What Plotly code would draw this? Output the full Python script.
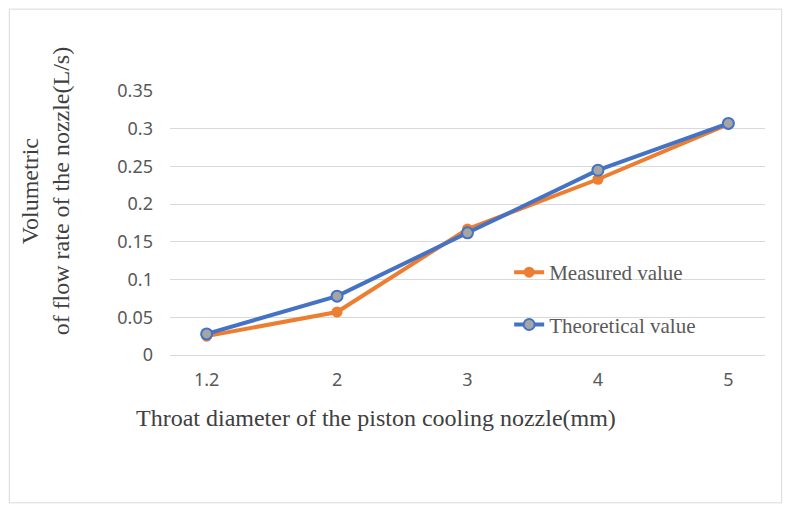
import plotly.graph_objects as go

diameters = ["1.2", "2", "3", "4", "5"]
measured = [0.025, 0.057, 0.167, 0.233, 0.306]
theoretical = [0.028, 0.078, 0.162, 0.245, 0.307]

fig = go.Figure()
fig.add_trace(go.Scatter(x=diameters, y=measured, name="Measured value", legendgroup="m",
                         mode="lines+markers", line=dict(color="#ED7D31", width=4),
                         marker=dict(size=11, color="#ED7D31")))
fig.add_trace(go.Scatter(x=diameters, y=theoretical, name="Theoretical value", legendgroup="t",
                         mode="lines+markers", line=dict(color="#4472C4", width=4),
                         marker=dict(size=11, color="#A5A5A5", line=dict(color="#4472C4", width=2))))

serif = "Times New Roman, Liberation Serif, serif"
fig.update_layout(
    width=776, height=496, margin=dict(l=162, r=19, t=83, b=149),
    paper_bgcolor="white", plot_bgcolor="white",
    font=dict(family="Noto Sans", color="#595959", size=18),
    xaxis=dict(type="category", showgrid=False, showline=True, linecolor="#D9D9D9",
               ticks="", tickfont=dict(size=18), ticklabelstandoff=8),
    yaxis=dict(range=[0, 0.35], dtick=0.05, gridcolor="#D9D9D9", zeroline=False,
               showline=False, tickfont=dict(size=18), ticklabelstandoff=16),
    legend=dict(x=0.57, y=0.39, xanchor="left", yanchor="top", bgcolor="rgba(0,0,0,0)",
                font=dict(family=serif, size=21, color="#595959"), tracegroupgap=22),
    annotations=[
        dict(text="Throat diameter of the piston cooling nozzle(mm)", xref="paper", yref="paper",
             x=-0.06, y=-0.24, xanchor="left", yanchor="middle", showarrow=False,
             font=dict(family=serif, size=24, color="#404040")),
        dict(text="Volumetric<br>of flow rate of the nozzle(L/s)", xref="paper", yref="paper",
             x=-0.21, y=0.62, textangle=-90, xanchor="center", yanchor="middle", showarrow=False,
             font=dict(family=serif, size=24, color="#404040")),
    ],
    shapes=[dict(type="rect", xref="paper", yref="paper", x0=-0.27, x1=1.028, y0=-0.56, y1=1.31,
                 line=dict(color="#D9D9D9", width=1))],
)
fig.write_html("out.html")
